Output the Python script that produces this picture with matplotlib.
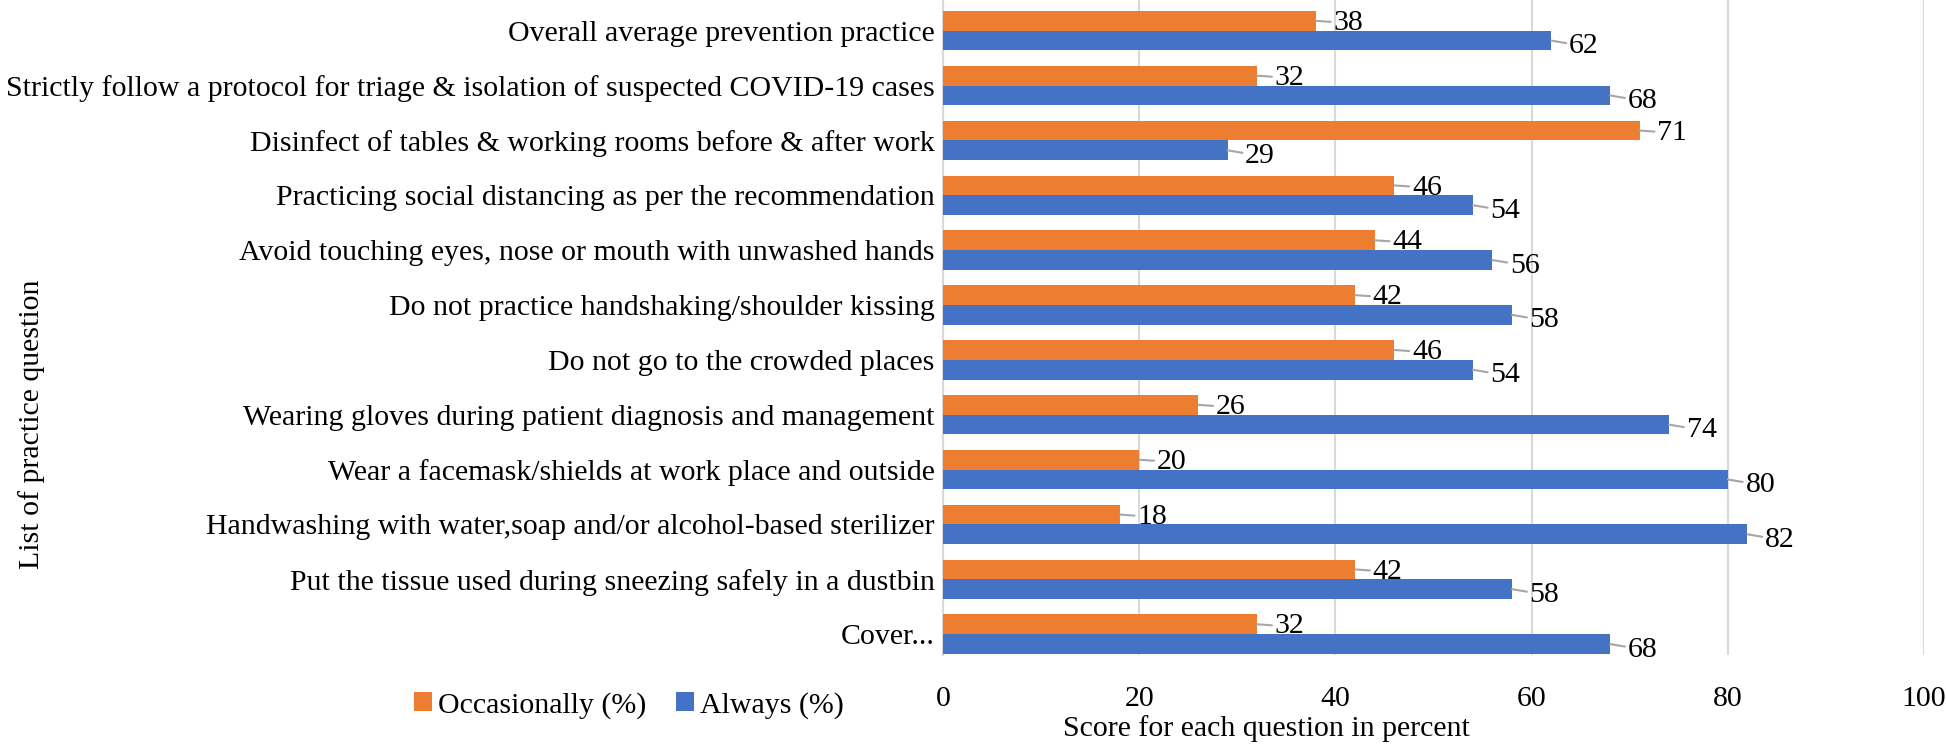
import numpy as np
import matplotlib.pyplot as plt

plt.rcParams['font.family'] = ['Liberation Serif', 'DejaVu Serif']

questions = [
    "Overall average prevention practice",
    "Strictly follow a protocol for triage & isolation of suspected COVID-19 cases",
    "Disinfect of tables & working rooms before & after work",
    "Practicing social distancing as per the recommendation",
    "Avoid touching eyes, nose or mouth with unwashed hands",
    "Do not practice handshaking/shoulder kissing",
    "Do not go to the crowded places",
    "Wearing gloves during patient diagnosis and management",
    "Wear a facemask/shields at work place and outside",
    "Handwashing with water,soap and/or alcohol-based sterilizer",
    "Put the tissue used during sneezing safely in a dustbin",
    "Cover...",
]
occasionally = [38, 32, 71, 46, 44, 42, 46, 26, 20, 18, 42, 32]
always = [62, 68, 29, 54, 56, 58, 54, 74, 80, 82, 58, 68]
xticks = [0, 20, 40, 60, 80, 100]

orange = '#ED7D31'
blue = '#4472C4'
fs = 21.5

fig = plt.figure(figsize=(19.46, 7.44), dpi=100)
ax = fig.add_axes([0.4846, 0.1196, 0.5041, 0.8804])

y = np.arange(len(questions))
h = 0.36
ax.barh(y - h / 2, occasionally, height=h, color=orange, label='Occasionally (%)', zorder=3)
ax.barh(y + h / 2, always, height=h, color=blue, label='Always (%)', zorder=3)

# data labels with small grey leader lines
for yi, v in zip(y - h / 2, occasionally):
    ax.annotate(str(v), xy=(v, yi), xytext=(v + 1.8, yi + 0.04),
                fontsize=fs, va='center', ha='left',
                arrowprops=dict(arrowstyle='-', color='#A6A6A6', lw=1.5,
                                shrinkA=0, shrinkB=0))
for yi, v in zip(y + h / 2, always):
    ax.annotate(str(v), xy=(v, yi), xytext=(v + 1.8, yi + 0.1),
                fontsize=fs, va='center', ha='left',
                arrowprops=dict(arrowstyle='-', color='#A6A6A6', lw=1.5,
                                shrinkA=0, shrinkB=0))

ax.set_ylim(11.38, -0.56)
ax.set_xlim(0, 100)
ax.set_yticks(y)
ax.set_yticklabels(questions, fontsize=fs)
ax.set_xticks(xticks)
ax.set_xticklabels([str(t) for t in xticks], fontsize=fs)
ax.tick_params(length=0)
ax.tick_params(axis='y', pad=6)
ax.tick_params(axis='x', pad=22)
ax.grid(axis='x', color='#D9D9D9', lw=1.5, zorder=0)
for s in ['top', 'right', 'bottom']:
    ax.spines[s].set_visible(False)
ax.spines['left'].set_color('#D9D9D9')
ax.spines['left'].set_linewidth(1.5)

ax.set_xlabel('Score for each question in percent', fontsize=fs)
ax.xaxis.set_label_coords(0.33, -0.092)
fig.text(0.016, 0.43, 'List of practice question', rotation=90,
         fontsize=fs, va='center', ha='center')

fig.legend(loc='center', bbox_to_anchor=(0.323, 0.052), ncol=2, frameon=False,
           fontsize=fs, handlelength=0.6, handleheight=0.6, handletextpad=0.2,
           columnspacing=1.0)

fig.savefig('out.png', dpi=100)
